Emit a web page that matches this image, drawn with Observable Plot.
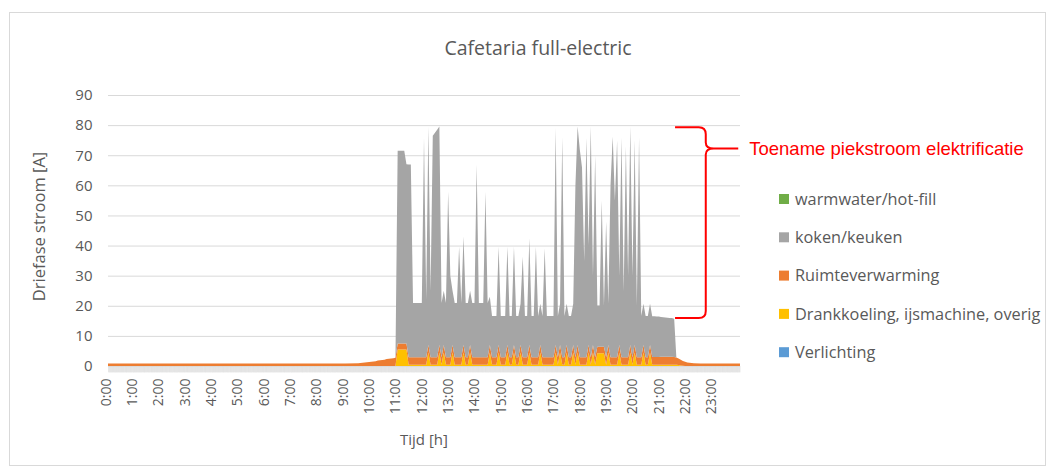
<!DOCTYPE html>
<html><head><meta charset="utf-8">
<script src="https://cdn.jsdelivr.net/npm/d3@7"></script>
<script src="https://cdn.jsdelivr.net/npm/@observablehq/plot@0.6"></script>
<style>body{margin:0;background:#fff;} svg{display:block}</style>
</head><body><div id="chart"></div>
<script>
const title = "Cafetaria full-electric";
const yLabel = "Driefase stroom [A]";
const xLabel = "Tijd [h]";
const annotationText = "Toename piekstroom elektrificatie";

const legendNames = ["warmwater/hot-fill", "koken/keuken", "Ruimteverwarming", "Drankkoeling, ijsmachine, overig", "Verlichting"];
const legendColors = ["#70AD47", "#A5A5A5", "#ED7D31", "#FFC000", "#5B9BD5"];
const stackOrder = ["Drankkoeling, ijsmachine, overig", "Ruimteverwarming", "koken/keuken"];

const hourLabels = ["0:00","1:00","2:00","3:00","4:00","5:00","6:00","7:00","8:00","9:00","10:00","11:00",
  "12:00","13:00","14:00","15:00","16:00","17:00","18:00","19:00","20:00","21:00","22:00","23:00"];
const yTicks = [0, 10, 20, 30, 40, 50, 60, 70, 80, 90];

// time of day in minutes: a few points overnight, 5-minute samples from 10:00 to 22:00
const minutes = [0, 540, 570, ...d3.range(600, 1321, 5), 1335, 1350, 1440];

// Drankkoeling, ijsmachine, overig [A]
const drankkoeling = [
  0, 0, 0,
  0,0,0,0,0,0,0,0,0,0,0,0,                       // 10h
  5.5,5.5,5.5,5.5,5.5,.4,.4,.4,.4,.4,.4,.4,      // 11h
  .4,.4,4.5,.4,.4,.4,.4,4.5,.4,4.5,.4,.4,        // 12h
  .4,4.5,.4,.4,.4,.4,4.5,.4,.4,4.5,.4,.4,        // 13h
  .4,.4,.4,.4,.4,.4,4.5,.4,.4,.4,4.5,.4,         // 14h
  .4,.4,4.5,.4,.4,4.5,.4,.4,4.5,.4,.4,.4,        // 15h
  4.5,.4,.4,.4,.4,4.5,.4,.4,.4,.4,.4,.4,         // 16h
  4.5,.4,4.5,.4,.4,4.5,.4,.4,4.5,.4,4.5,.4,      // 17h
  .4,.4,.4,4.5,.4,4.5,.4,4.2,4.2,4.2,4.2,.4,     // 18h
  4.5,.4,.4,.4,.4,4.5,.4,.4,.4,.4,4.5,.4,        // 19h
  4.5,.4,.4,.4,4.5,.4,.4,4.5,.4,.4,.4,.4,        // 20h
  .4,.4,.4,.4,.4,.4,.4,.4,.3,.2,.1,0,            // 21h
  0,
  0, 0, 0
];

// Ruimteverwarming [A]
const ruimteverwarming = [
  0.8, 0.8, 0.9,
  1.4,1.5,1.6,1.8,1.9,2.0,2.1,2.3,2.4,2.5,2.6,2.7,  // 10h
  2.0,2.0,2.0,2.0,2.0,2.5,2.5,2.5,2.5,2.5,2.5,2.5,  // 11h
  2.5,2.5,2.5,2.5,2.5,2.5,2.5,2.5,2.5,2.5,2.5,2.5,  // 12h
  2.5,2.5,2.5,2.5,2.5,2.5,2.5,2.5,2.5,2.5,2.5,2.5,  // 13h
  2.5,2.5,2.5,2.5,2.5,2.5,2.5,2.5,2.5,2.5,2.5,2.5,  // 14h
  2.5,2.5,2.5,2.5,2.5,2.5,2.5,2.5,2.5,2.5,2.5,2.5,  // 15h
  2.5,2.5,2.5,2.5,2.5,2.5,2.5,2.5,2.5,2.5,2.5,2.5,  // 16h
  2.5,2.5,2.5,2.5,2.5,2.5,2.5,2.5,2.5,2.5,2.5,2.5,  // 17h
  2.5,2.5,2.5,2.5,2.5,2.5,2.5,2.2,2.2,2.2,2.2,2.5,  // 18h
  2.5,2.5,2.5,2.5,2.5,2.5,2.5,2.5,2.5,2.5,2.5,2.5,  // 19h
  2.5,2.5,2.5,2.5,2.5,2.5,2.5,2.5,2.6,2.6,2.6,2.6,  // 20h
  2.7,2.7,2.7,2.7,2.7,2.7,2.6,2.4,2.2,1.9,1.6,1.4,  // 21h
  1.2,
  0.9, 0.8, 0.8
];

// koken/keuken [A]
const koken = [
  0, 0, 0,
  0,0,0,0,0,0,0,0,0,0,0,0,                                        // 10h
  64,64,64,64,59.5,64,64,18,18,18,18,18,                          // 11h
  72.8,19,72.5,22,73.6,74.6,75.6,72.5,18,18,18,55,                // 12h
  27,18,18,18,36.7,18,36,18,18,18,18,18,                          // 13h
  63.9,18,18,18,55,18,16,13.7,13.7,13.7,32.6,13.7,                // 14h
  13.7,13.7,32.6,13.7,13.7,32.6,13.7,13.7,13.7,33.4,13.7,13.7,    // 15h
  35.4,13.7,13.7,36.7,13.7,13.7,13.7,36.1,13.7,13.7,13.7,13.7,    // 16h
  72,13.7,13.7,73.1,13.7,13.7,13.7,13.7,13.7,57,72.5,69,          // 17h
  63,32,72.8,33,76.6,23,67,13.7,13.7,48.6,13.7,45.1,              // 18h
  13.7,57.1,73.3,52,72,23,73,22,70,27,72.5,27,                    // 19h
  68,17,73,13.7,13.7,13.7,13.7,13.7,13.5,13.5,13.4,13.4,          // 20h
  13.2,13.1,13.0,12.9,12.8,12.8,12.7,0,0,0,0,0,                   // 21h
  0,
  0, 0, 0
];

// annotation brace (minutes / ampere)
const braceArmStart = 1292, braceSpine = 1362, braceTip = 1436;
const braceTop = 79.3, braceBottom = 15.9, braceMid = 72.2;

const rows = [];
minutes.forEach((t, i) => {
  rows.push({t, s: stackOrder[0], v: drankkoeling[i]});
  rows.push({t, s: stackOrder[1], v: ruimteverwarming[i]});
  rows.push({t, s: stackOrder[2], v: koken[i]});
});

const textColor = "#595959";
const font = "'Open Sans', sans-serif";

const plot = Plot.plot({
  width: 1055,
  height: 473,
  marginLeft: 108,
  marginRight: 315,
  marginTop: 95,
  marginBottom: 107,
  style: {fontFamily: font, background: "#fff", color: textColor, overflow: "visible"},
  x: {domain: [0, 1440], axis: null},
  y: {domain: [0, 90], axis: null},
  color: {domain: legendNames, range: legendColors},
  marks: [
    Plot.gridY(yTicks, {stroke: "#d9d9d9", strokeOpacity: 1, strokeWidth: 1}),
    Plot.axisY(yTicks, {tickSize: 0, tickPadding: 16, fontSize: 15, fill: textColor, label: null}),
    Plot.areaY(rows, {x: "t", y: "v", z: "s", fill: "s", order: stackOrder, curve: "linear"}),
    Plot.ruleX(d3.range(0, 1440, 1), {x: d => d, y1: 0, y2: -2.1, stroke: "#dcdcdc", strokeWidth: 0.5}),
    Plot.text(hourLabels, {x: (d, i) => i * 60, text: d => d, frameAnchor: "bottom", rotate: -90,
      textAnchor: "end", dy: 12, dx: 2, fontSize: 14, fill: textColor})
  ]
});

document.getElementById("chart").appendChild(plot);

const svg = d3.select(plot);
const sx = plot.scale("x"), sy = plot.scale("y");

// chart border
svg.insert("rect", ":first-child")
  .attr("x", 9.5).attr("y", 12.5).attr("width", 1036).attr("height", 453)
  .attr("fill", "none").attr("stroke", "#d9d9d9");

// title
svg.append("text").attr("x", 538).attr("y", 55).attr("text-anchor", "middle")
  .attr("font-family", font).attr("font-size", 19.5).attr("fill", textColor).text(title);

// axis labels
svg.append("text").attr("transform", `translate(45,${(sy.apply(0) + sy.apply(90)) / 2 - 4}) rotate(-90)`)
  .attr("text-anchor", "middle").attr("font-family", font).attr("font-size", 16.5).attr("fill", textColor).text(yLabel);
svg.append("text").attr("x", (sx.apply(0) + sx.apply(1440)) / 2).attr("y", 445).attr("text-anchor", "middle")
  .attr("font-family", font).attr("font-size", 15).attr("fill", textColor).text(xLabel);

// legend
const lg = svg.append("g");
legendNames.forEach((name, i) => {
  const cy = 199 + i * 38.3;
  lg.append("rect").attr("x", 779).attr("y", cy - 5).attr("width", 10).attr("height", 10).attr("fill", legendColors[i]);
  lg.append("text").attr("x", 795).attr("y", cy).attr("dy", "0.35em").attr("text-anchor", "start")
    .attr("font-family", font).attr("font-size", 16.3).attr("fill", textColor).text(name);
});

// brace annotation
const xa = sx.apply(braceArmStart), xb = sx.apply(braceSpine), xt = sx.apply(braceTip);
const yT = sy.apply(braceTop), yB = sy.apply(braceBottom), yM = sy.apply(braceMid);
const r = 7;
const p = `M${xa},${yT} L${xb - r},${yT} Q${xb},${yT} ${xb},${yT + r} L${xb},${yM - 6} Q${xb},${yM} ${xb + 8},${yM} L${xt},${yM}` +
  ` M${xb + 8},${yM} Q${xb},${yM} ${xb},${yM + 6} L${xb},${yB - r} Q${xb},${yB} ${xb - r},${yB} L${xa},${yB}`;
svg.append("path").attr("d", p).attr("fill", "none").attr("stroke", "#FF0000").attr("stroke-width", 2);
svg.append("text").attr("x", xt + 11).attr("y", yM).attr("dy", "0.35em").attr("text-anchor", "start")
  .attr("font-family", "'Liberation Sans', Arial, sans-serif").attr("font-size", 18.5).attr("fill", "#FF0000")
  .text(annotationText);
</script>
</body></html>
